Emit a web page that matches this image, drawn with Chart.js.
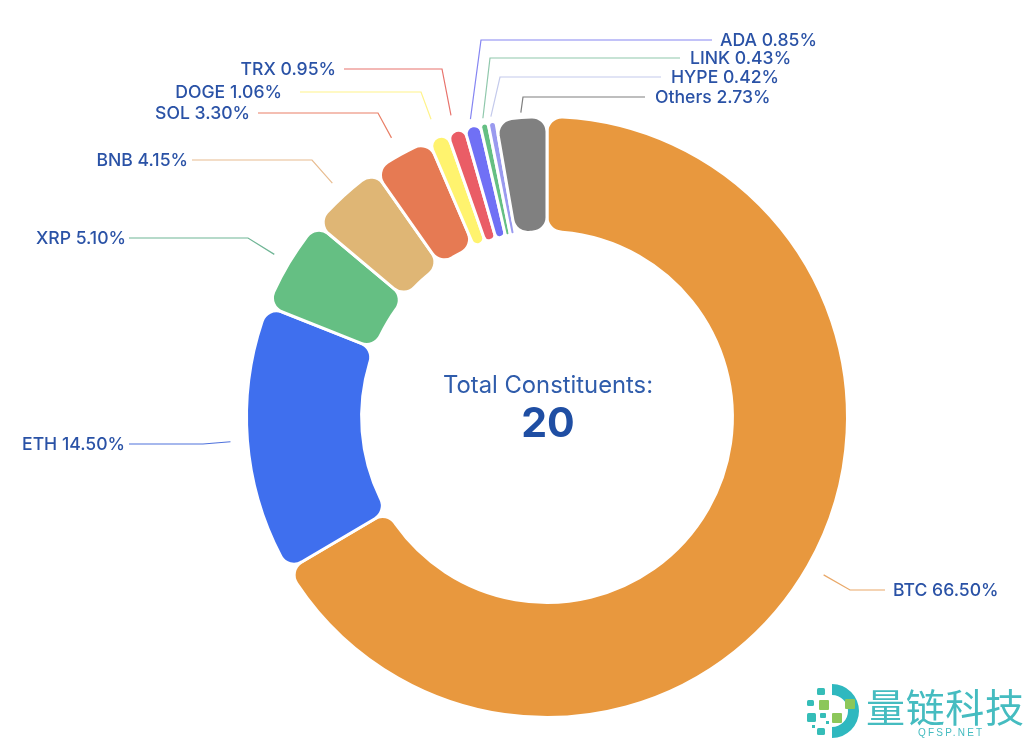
<!DOCTYPE html>
<html>
<head>
<meta charset="utf-8">
<script src="https://cdn.jsdelivr.net/npm/chart.js@4"></script>
<style>
body { margin: 0; background: #fff; }
#wrap { position: relative; width: 1024px; height: 743px; overflow: hidden; }
#wm { position: absolute; left: 800px; top: 680px; width: 224px; height: 63px; }
</style>
</head>
<body>
<div id="wrap">
<canvas id="chart" width="1024" height="743"></canvas>
<svg id="wm" viewBox="800 680 224 63">
  <path d="M832 684 A27 27 0 0 1 832 738 L832 727 A16 16 0 0 0 832 695 Z" fill="#2fb8bf"/>
  <g fill="#35bdb8">
    <rect x="817" y="688" width="8" height="7" rx="1.5"/>
    <rect x="807" y="700" width="7" height="6" rx="1.5"/>
    <rect x="807" y="713" width="9" height="9" rx="1.5"/>
    <rect x="820" y="713" width="6" height="5" rx="1"/>
    <rect x="817" y="728" width="8" height="7" rx="1.5"/>
    <rect x="812" y="725" width="3" height="3"/>
    <rect x="826" y="721" width="3" height="3"/>
  </g>
  <g fill="#8cc75a">
    <rect x="819" y="700" width="10" height="10" rx="1"/>
    <rect x="845" y="699" width="10" height="10" rx="1"/>
    <rect x="832" y="713" width="10" height="10" rx="1"/>
  </g>
  <text x="866" y="722" font-family="Noto Sans CJK SC" font-size="39" fill="#45bcc0" textLength="158">量链科技</text>
  <text x="918" y="736" font-family="Liberation Sans" font-size="10" fill="#45bcc0" letter-spacing="2.2">QFSP.NET</text>
</svg>
</div>
<script>
const categories = ["BTC", "ETH", "XRP", "BNB", "SOL", "DOGE", "TRX", "ADA", "LINK", "HYPE", "Others"];
const shares = [66.50, 14.50, 5.10, 4.15, 3.30, 1.06, 0.95, 0.85, 0.43, 0.42, 2.73];
const sliceColors = ["#E8983E", "#3F6FEE", "#65BF83", "#DFB675", "#E67A53", "#FFF36E", "#EA5D66", "#7070F5", "#65BF83", "#9A9AEF", "#808080"];
const leaderColors = ["#E9A868", "#4F72DC", "#6FB595", "#E8BC90", "#E97F66", "#FFF38A", "#E8736C", "#8585F2", "#90C8AC", "#C4CAEC", "#7E7E7E"];

// where each callout goes: gap off the ring, elbow, end of the line, label anchor
const callouts = [
    { gap: 18, elbow: [850, 590], end: [885, 590], labelX: 893, align: "left" },
    { gap: 17, elbow: [203, 444], end: [129, 444], labelX: 125, align: "right" },
    { gap: 17, elbow: [248, 238], end: [129, 238], labelX: 126, align: "right" },
    { gap: 17, elbow: [312, 160], end: [192, 160], labelX: 188, align: "right" },
    { gap: 19, elbow: [378, 113], end: [258, 113], labelX: 250, align: "right" },
    { gap: 19, elbow: [421, 92], end: [300, 92], labelX: 282, align: "right" },
    { gap: 16, elbow: [442, 69], end: [344, 69], labelX: 336, align: "right" },
    { gap: 7, elbow: [481, 40], end: [712, 40], labelX: 720, align: "left" },
    { gap: 5, elbow: [490, 58], end: [680, 58], labelX: 690, align: "left" },
    { gap: 5, elbow: [500, 77], end: [661, 77], labelX: 671, align: "left" },
    { gap: 5, elbow: [523, 97], end: [645, 97], labelX: 655, align: "left" }
];

const calloutPlugin = {
    id: "callouts",
    afterDatasetsDraw(chart) {
        const ctx = chart.ctx;
        chart.getDatasetMeta(0).data.forEach((arc, i) => {
            const c = callouts[i];
            const mid = (arc.startAngle + arc.endAngle) / 2;
            const r = arc.outerRadius + c.gap;

            ctx.strokeStyle = leaderColors[i];
            ctx.lineWidth = 1.2;
            ctx.beginPath();
            ctx.moveTo(arc.x + Math.cos(mid) * r, arc.y + Math.sin(mid) * r);
            ctx.lineTo(c.elbow[0], c.elbow[1]);
            ctx.lineTo(c.end[0], c.end[1]);
            ctx.stroke();

            ctx.fillStyle = "#2A52A6";
            ctx.font = "500 17.6px Inter";
            ctx.textAlign = c.align;
            ctx.textBaseline = "middle";
            ctx.fillText(`${categories[i]} ${shares[i].toFixed(2)}%`, c.labelX, c.end[1] + 1);
        });

        const top = chart.getDatasetMeta(0).data[0];
        ctx.textAlign = "center";
        ctx.fillStyle = "#2F5CAB";
        ctx.font = "400 23.8px Inter";
        ctx.fillText("Total Constituents:", top.x + 1, 386);
        ctx.fillStyle = "#1F4EA3";
        ctx.font = "700 41px Inter";
        ctx.fillText("20", top.x + 1, 425);
    }
};

new Chart(document.getElementById("chart").getContext("2d"), {
    type: "doughnut",
    data: {
        labels: categories,
        datasets: [{
            data: shares,
            backgroundColor: sliceColors,
            borderColor: "#fff",
            borderWidth: 3,
            borderRadius: 15
        }]
    },
    options: {
        responsive: false,
        animation: false,
        radius: 300.5,
        cutout: "61.7%",
        layout: { padding: { left: 70, top: 91 } },
        plugins: {
            legend: { display: false },
            tooltip: { enabled: false }
        }
    },
    plugins: [calloutPlugin]
});
</script>
</body>
</html>
